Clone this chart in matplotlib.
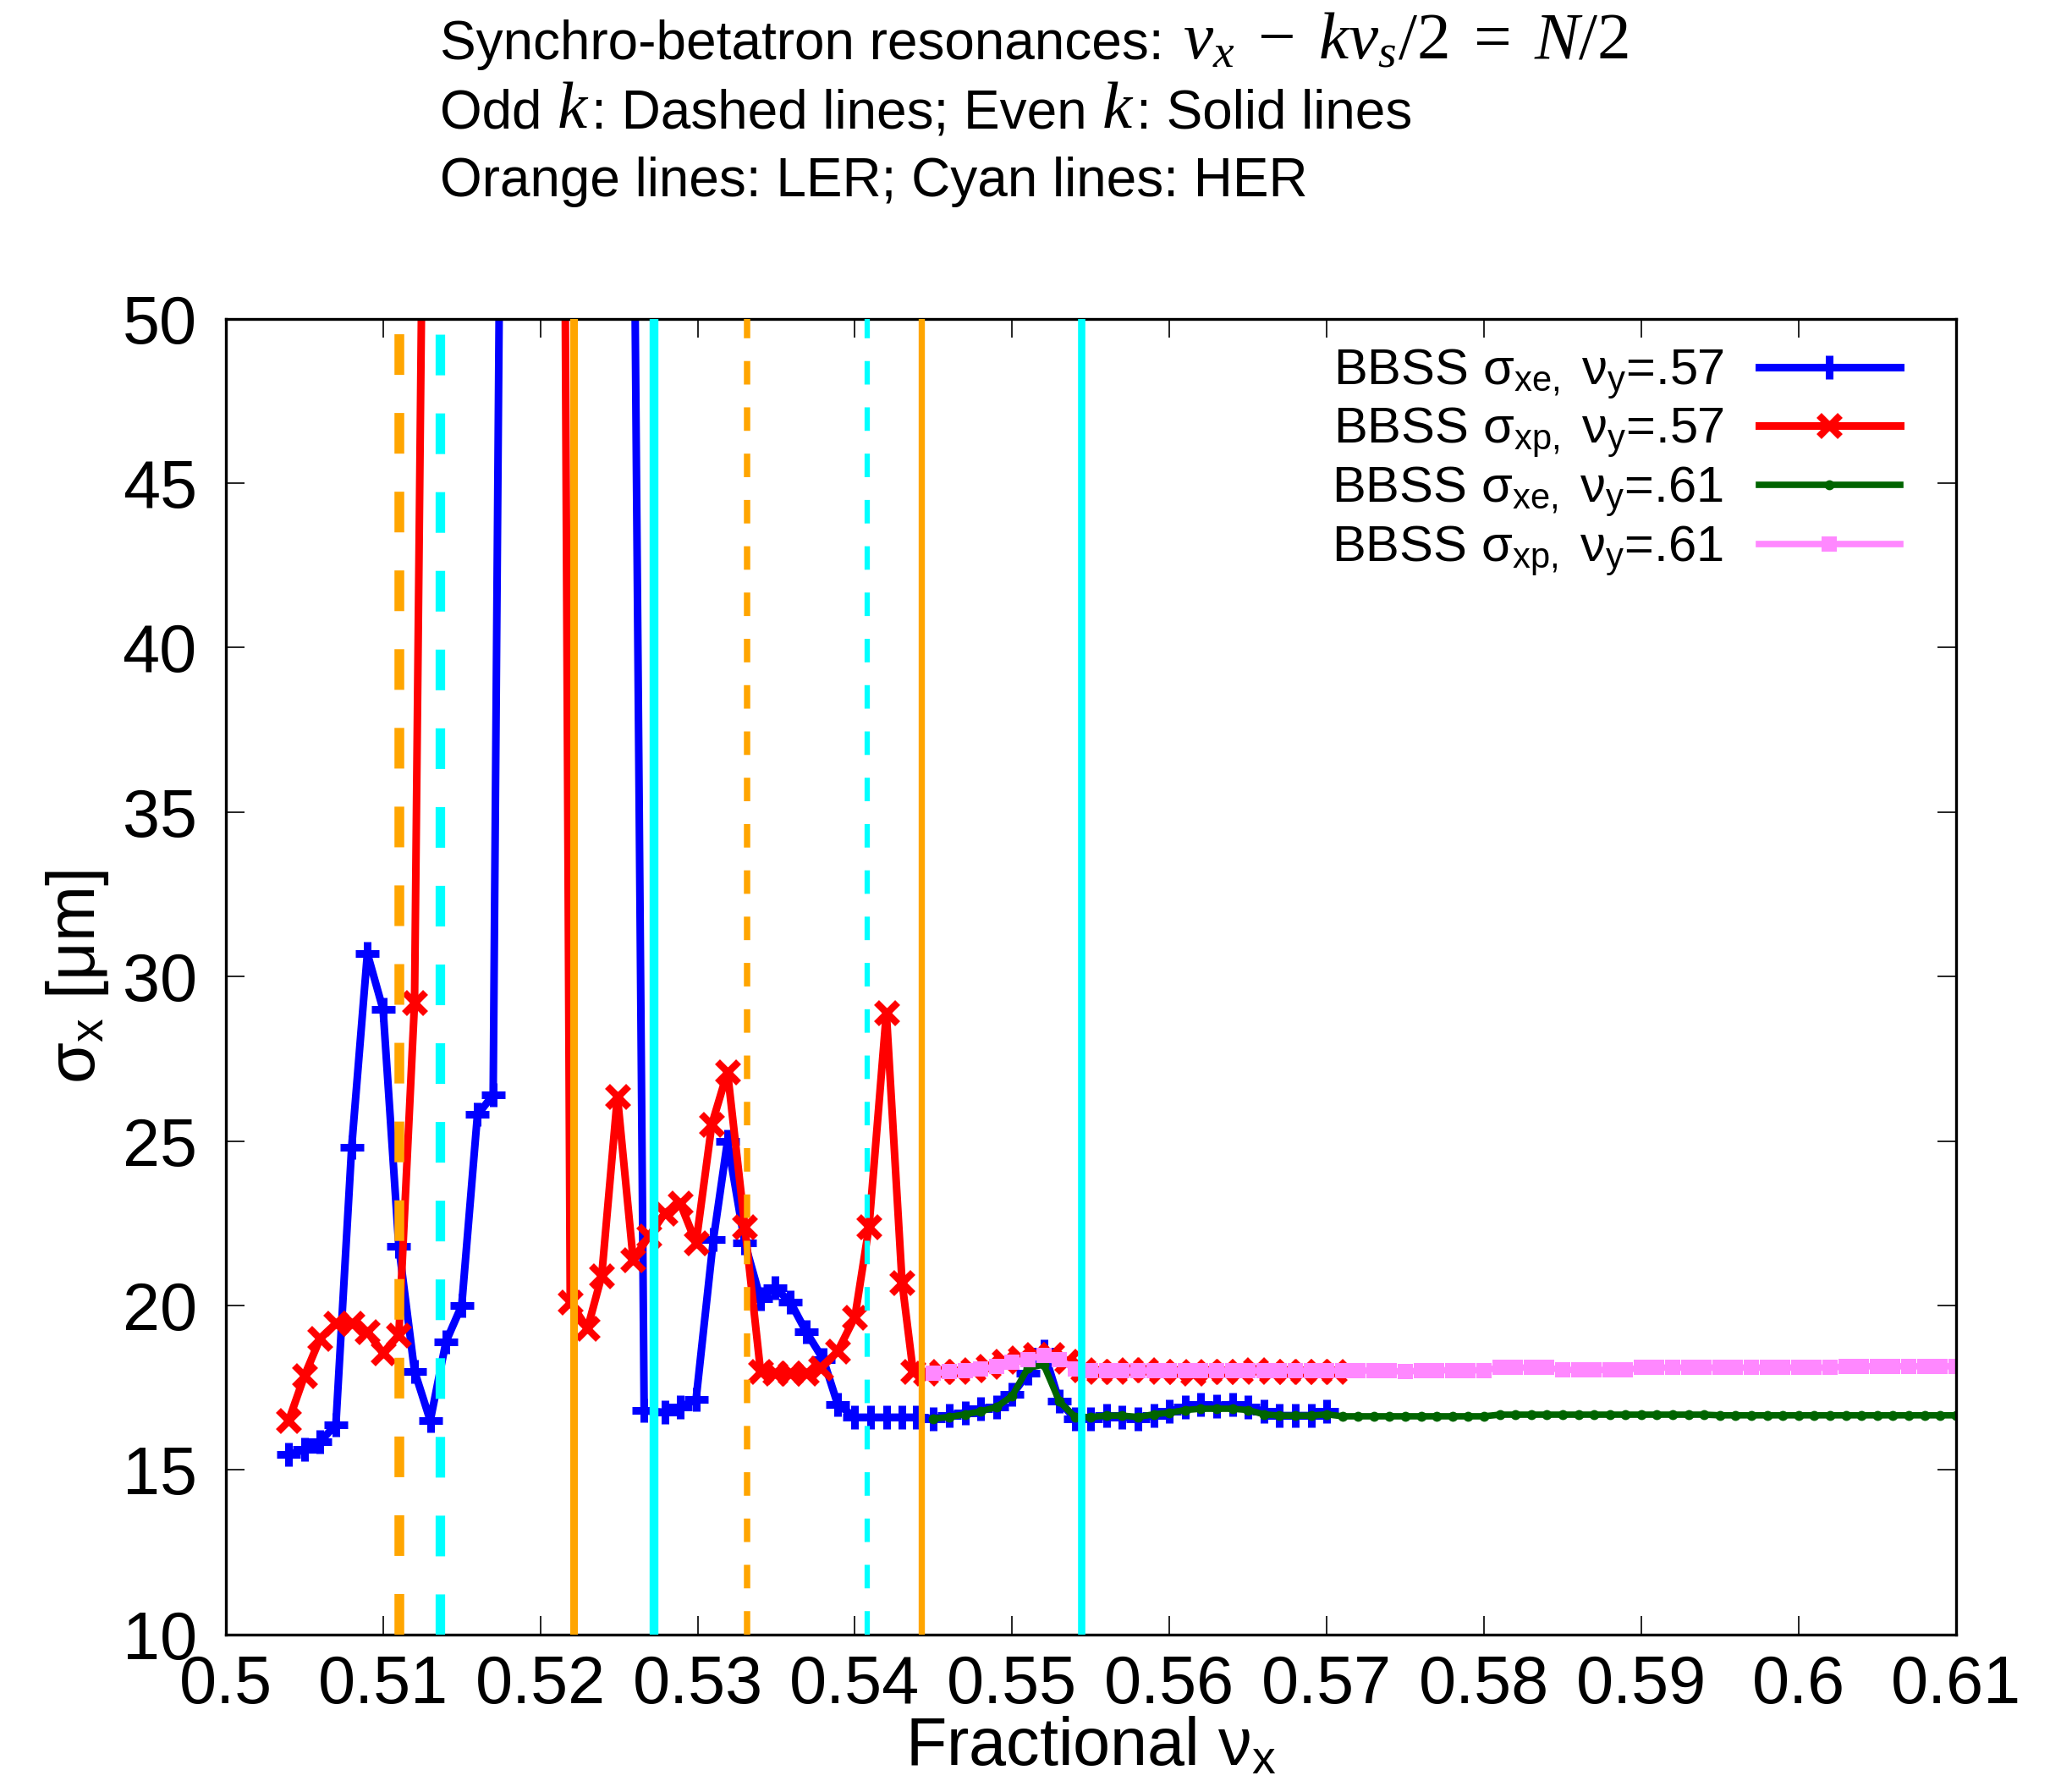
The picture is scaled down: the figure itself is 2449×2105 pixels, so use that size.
import matplotlib
matplotlib.use('Agg')
import matplotlib.pyplot as plt

plt.rcParams['font.family'] = ['Liberation Sans', 'DejaVu Sans']
plt.rcParams['mathtext.fontset'] = 'custom'
plt.rcParams['mathtext.rm'] = 'Liberation Serif'
plt.rcParams['mathtext.it'] = 'Liberation Serif:italic'
plt.rcParams['mathtext.sf'] = 'Liberation Sans'
plt.rcParams['lines.scale_dashes'] = False

# ---------------- data ----------------
# BBSS sigma_xe, nu_y = .57
xe57_x = [0.504, 0.505, 0.506, 0.507, 0.508, 0.509, 0.510, 0.511, 0.512, 0.513,
          0.514, 0.515, 0.516, 0.517, 0.518,
          0.5256, 0.5266, 0.5279, 0.5289, 0.5299, 0.5310, 0.5319, 0.5330, 0.5340,
          0.5349, 0.5359, 0.5369, 0.5380, 0.5389, 0.5400, 0.5410, 0.5420, 0.5430, 0.5439,
          0.545, 0.546, 0.547, 0.548, 0.549, 0.550, 0.551, 0.552, 0.553, 0.554,
          0.555, 0.556, 0.557, 0.558, 0.559, 0.560, 0.561, 0.562, 0.563, 0.564,
          0.565, 0.566, 0.567, 0.568, 0.569, 0.570]
xe57_y = [15.46, 15.62, 15.86, 16.38, 24.8, 30.7, 29.0, 21.8, 18.0, 16.5,
          18.9, 20.0, 25.8, 26.4, 89.0,
          75.0, 16.8, 16.75, 16.9, 17.15, 22.0, 25.0, 21.9, 20.2,
          20.55, 20.1, 19.2, 18.35, 17.0, 16.6, 16.6, 16.6, 16.6, 16.6,
          16.56, 16.65, 16.74, 16.86, 16.91, 17.29, 17.93, 18.62, 17.08, 16.56,
          16.56, 16.65, 16.61, 16.56, 16.65, 16.78, 16.91, 16.99, 16.95, 16.99,
          16.91, 16.78, 16.65, 16.65, 16.65, 16.78]

# BBSS sigma_xp, nu_y = .57
xp57_x = [0.504, 0.505, 0.506, 0.507, 0.508, 0.509, 0.510, 0.511, 0.512, 0.513,
          0.5209, 0.5219, 0.5230, 0.5239, 0.5249, 0.5259, 0.5269, 0.5279, 0.5289,
          0.5299, 0.5309, 0.5319, 0.5330, 0.5340, 0.5349, 0.5359, 0.5369, 0.5378,
          0.5389, 0.5400, 0.5409, 0.5420, 0.5430, 0.5437,
          0.5445, 0.5455, 0.5465, 0.5475, 0.5485, 0.5495, 0.5505, 0.5515, 0.5525,
          0.5535, 0.5545, 0.5555, 0.5565, 0.5575, 0.5585, 0.5595, 0.5605, 0.5615,
          0.5625, 0.5635, 0.5645, 0.5655, 0.5665, 0.5675, 0.5685, 0.5695, 0.5705]
xp57_y = [16.5, 17.86, 19.0, 19.45, 19.45, 19.2, 18.55, 19.1, 29.2, 77.0,
          116.0, 20.1, 19.3, 20.9, 26.35, 21.4, 22.1, 22.8, 23.1,
          21.9, 25.5, 27.1, 22.4, 18.0, 17.95, 17.95, 17.95, 18.1,
          18.6, 19.65, 22.4, 28.9, 20.7, 18.0,
          17.95, 18.0, 18.0, 18.05, 18.15, 18.3, 18.4, 18.5, 18.5,
          18.3, 18.05, 18.0, 18.0, 18.05, 18.05, 18.0, 18.0, 17.95,
          18.0, 18.0, 18.0, 18.05, 18.0, 18.0, 18.0, 18.0, 18.0]

# nu_y = .61 scans (both beams)
nu61_x = [0.545, 0.546, 0.547, 0.548, 0.549, 0.550, 0.551, 0.552, 0.553, 0.554,
          0.555, 0.556, 0.557, 0.558, 0.559, 0.560, 0.561, 0.562, 0.563, 0.564,
          0.565, 0.566, 0.567, 0.568, 0.569, 0.570, 0.571, 0.572, 0.573, 0.574,
          0.575, 0.576, 0.577, 0.578, 0.579, 0.580, 0.581, 0.582, 0.583, 0.584,
          0.585, 0.586, 0.587, 0.588, 0.589, 0.590, 0.591, 0.592, 0.593, 0.594,
          0.595, 0.596, 0.597, 0.598, 0.599, 0.600, 0.601, 0.602, 0.603, 0.604,
          0.605, 0.606, 0.607, 0.608, 0.609, 0.610]
xe61_y = [16.56, 16.61, 16.69, 16.78, 16.91, 17.25, 18.1, 18.2, 17.08, 16.61,
          16.61, 16.65, 16.65, 16.61, 16.69, 16.74, 16.82, 16.86, 16.86, 16.86,
          16.82, 16.69, 16.65, 16.65, 16.65, 16.69, 16.63, 16.63, 16.63, 16.63,
          16.63, 16.63, 16.63, 16.63, 16.63, 16.63, 16.68, 16.68, 16.68, 16.68,
          16.68, 16.68, 16.68, 16.68, 16.68, 16.68, 16.68, 16.68, 16.68, 16.68,
          16.66, 16.66, 16.66, 16.66, 16.66, 16.66, 16.66, 16.66, 16.66, 16.66,
          16.66, 16.66, 16.66, 16.66, 16.66, 16.66]
xp61_y = [17.93, 17.98, 18.02, 18.06, 18.15, 18.28, 18.36, 18.49, 18.36, 18.06,
          18.02, 18.02, 18.02, 18.02, 18.02, 18.02, 18.02, 18.02, 18.02, 18.02,
          18.02, 18.02, 18.02, 18.02, 18.02, 18.02, 18.02, 18.02, 18.02, 18.02,
          17.98, 18.03, 18.03, 18.03, 18.03, 18.03, 18.11, 18.11, 18.11, 18.11,
          18.04, 18.04, 18.04, 18.04, 18.04, 18.11, 18.11, 18.11, 18.11, 18.11,
          18.11, 18.11, 18.11, 18.11, 18.11, 18.11, 18.11, 18.11, 18.15, 18.15,
          18.15, 18.15, 18.15, 18.15, 18.15, 18.15]

# resonance lines nu_x = N/2 + k nu_s/2, k = 1..4
ler_lines = [0.51105, 0.5221, 0.53315, 0.5442]
her_lines = [0.5136, 0.5272, 0.5408, 0.5544]

x_ticks = [0.50, 0.51, 0.52, 0.53, 0.54, 0.55, 0.56, 0.57, 0.58, 0.59, 0.60, 0.61]
x_tick_labels = ['0.5', '0.51', '0.52', '0.53', '0.54', '0.55', '0.56', '0.57',
                 '0.58', '0.59', '0.6', '0.61']
y_ticks = [10, 15, 20, 25, 30, 35, 40, 45, 50]

labels = [r'BBSS σ$_{\mathsf{xe,}}$ ν$_{\mathsf{y}}$=.57',
          r'BBSS σ$_{\mathsf{xp,}}$ ν$_{\mathsf{y}}$=.57',
          r'BBSS σ$_{\mathsf{xe,}}$ ν$_{\mathsf{y}}$=.61',
          r'BBSS σ$_{\mathsf{xp,}}$ ν$_{\mathsf{y}}$=.61']

# ---------------- figure ----------------
W, H = 2449, 2105
fig = plt.figure(figsize=(W / 100, H / 100), dpi=100)
ax = fig.add_axes([0.10898, 0.08233, 0.83495, 0.73872])

l1, = ax.plot(xe57_x, xe57_y, color='#0000FF', lw=6.5, marker='+', ms=20, mew=6.5, zorder=2)
l2, = ax.plot(xp57_x, xp57_y, color='#FF0000', lw=6.5, marker='x', ms=18, mew=6, zorder=2.1)
l3, = ax.plot(nu61_x, xe61_y, color='#006400', lw=5.5, marker='o', ms=8.5, mew=0, zorder=2.2)
l4, = ax.plot(nu61_x, xp61_y, color='#FF88FF', lw=5.5, marker='s', ms=13.5, mew=0, zorder=2.3)

thick_dash = (0, (34.6, 32.4))
thin_dash = (0, (20.0, 19.4))
ler_styles = [thick_dash, '-', thin_dash, '-']
her_styles = [thick_dash, '-', thin_dash, '-']
ler_widths = [8.3, 6.5, 5.4, 5.3]
her_widths = [8.1, 7.5, 4.5, 6.2]
for xv, ls, lw in zip(ler_lines, ler_styles, ler_widths):
    ax.axvline(xv, color='#FFA500', ls=ls, lw=lw, zorder=3)
for xv, ls, lw in zip(her_lines, her_styles, her_widths):
    ax.axvline(xv, color='#00FFFF', ls=ls, lw=lw, zorder=3)

ax.set_xlim(0.5, 0.61)
ax.set_ylim(10, 50)
ax.set_xticks(x_ticks)
ax.set_xticklabels(x_tick_labels)
ax.set_yticks(y_ticks)
ax.tick_params(axis='both', which='major', direction='in', length=15.8, width=1.2,
               top=True, right=True, labelsize=57)
ax.tick_params(axis='x', pad=16.5)
ax.tick_params(axis='y', pad=24.5)
for sp in ax.spines.values():
    sp.set_linewidth(2.4)

ax.set_xlabel(r'Fractional ν$_{\mathsf{x}}$', fontsize=57)
ax.xaxis.set_label_coords(0.5, -0.062)
ax.set_ylabel(r'σ$_{\mathsf{x}}$ [μm]', fontsize=57, va='center')
ax.yaxis.set_label_coords(-0.086, 0.5)

ax.legend([l1, l2, l3, l4], labels, loc='upper right', bbox_to_anchor=(0.9679, 0.9786),
          frameon=False, markerfirst=False, fontsize=43, handlelength=2.8,
          handletextpad=0.7, labelspacing=0.1, borderpad=0, borderaxespad=0,
          numpoints=1)

# ---------------- header text ----------------
renderer = fig.canvas.get_renderer()
SANS = 46
MATH = 57
SPACE = 18


def put_line(x0, y_base, pieces):
    x = x0
    for txt, size, gap in pieces:
        x += gap
        t = fig.text(x / W, y_base, txt, fontsize=size, ha='left', va='baseline')
        x = t.get_window_extent(renderer=renderer).x1


put_line(520, 1 - 70 / H, [
    ('Synchro-betatron resonances:', SANS, 0),
    (r'$\nu_x\;-\;k\nu_s/2\;=\;N/2$', MATH, 22),
])
put_line(520, 1 - 151 / H, [
    ('Odd', SANS, 0),
    (r'$k$', MATH, SPACE),
    (': Dashed lines; Even', SANS, 2),
    (r'$k$', MATH, SPACE),
    (': Solid lines', SANS, 2),
])
put_line(520, 1 - 232 / H, [
    ('Orange lines: LER; Cyan lines: HER', SANS, 0),
])

fig.savefig('out.png', dpi=100)
